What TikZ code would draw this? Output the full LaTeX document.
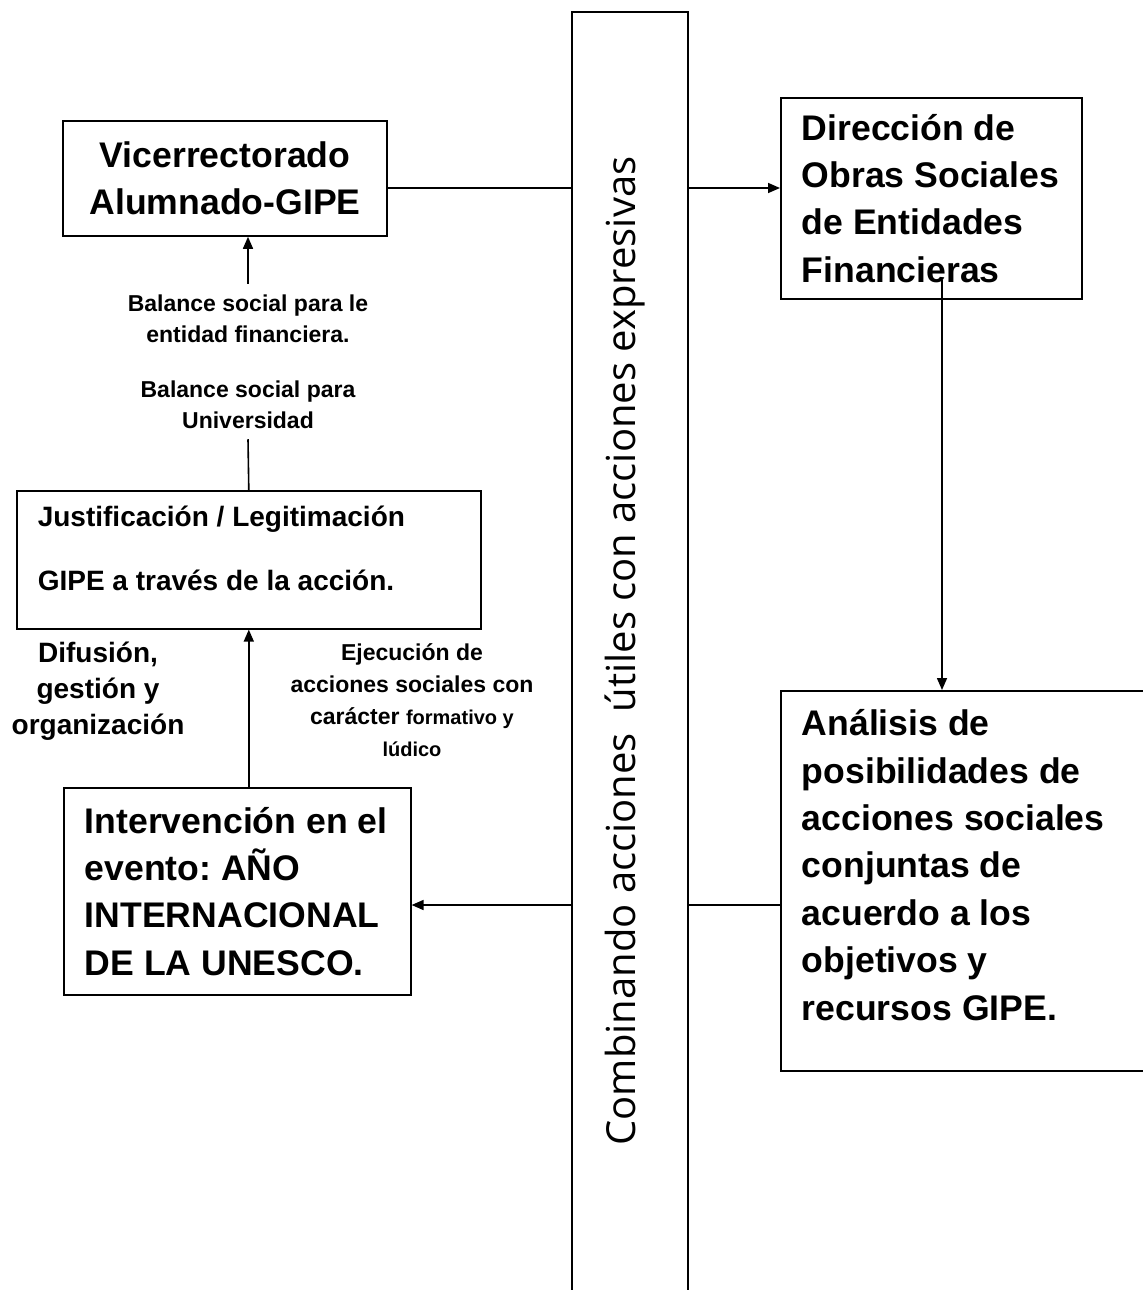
\documentclass[tikz,border=0pt]{standalone}
\usepackage{fontspec}
\setmainfont{Liberation Sans}
\newfontfamily\barfont{Open Sans}
\frenchspacing
\usetikzlibrary{calc}
\usetikzlibrary{arrows.meta}

\begin{document}
\begin{tikzpicture}[x=0.5pt, y=-0.5pt, line width=0.8pt, >={Triangle[length=6pt, width=5pt]},
 box/.style={draw, rectangle, anchor=north west, inner xsep=10.5pt, inner ysep=0pt, align=flush left},
 big/.style={font=\bfseries\fontsize{17.8}{23.7}\selectfont},
 note/.style={align=center, inner sep=5pt, font=\bfseries\fontsize{11.5}{15.5}\selectfont}]
\useasboundingbox (0,0) rectangle (1143,1290);
% central bar
\node[draw, anchor=north, inner sep=0, minimum width=58pt, minimum height=650pt] (bar) at (630,11) {};
\node[rotate=90, anchor=base, inner sep=0, font=\barfont\fontsize{20}{24}\selectfont] (lema) at (635,651)
 {Combinando acciones~ útiles con acciones expresivas};
% left side
\node[draw, big, align=center, minimum width=162pt, minimum height=57.5pt] (vice) at (225,178.5) {Vicerrectorado\\Alumnado-GIPE};
\node[note] (ent) at (248,318.5) {Balance social para le\\entidad financiera.};
\node[note] (univ) at (248,404.5) {Balance social para\\Universidad};
\node[box, text width=211pt, minimum height=69pt, font=\bfseries\fontsize{14}{16}\selectfont] (just) at (16,490)
 {Justificación / Legitimación\\[16pt]GIPE a través de la acción.\rule[-12pt]{0pt}{12pt}};
\node[align=center, font=\bfseries\fontsize{14}{18}\selectfont] (dif) at (98,691) {Difusión,\\gestión y\\organización};
\node[note, inner sep=0pt, font=\bfseries\fontsize{11.5}{16}\selectfont] (eje) at (412,700)
 {Ejecución de\\acciones sociales con\\carácter {\fontsize{10}{16}\selectfont formativo y}\\{\fontsize{10}{16}\selectfont lúdico}};
\node[box, big, text width=152.5pt, minimum height=103.5pt] (inter) at (63,787)
 {Intervención~en~el\\evento: AÑO\\INTERNACIONAL\\DE LA UNESCO.};
% right side
\node[box, big, text width=129.5pt, minimum height=100.5pt] (dir) at (780,97)
 {Dirección de\\Obras~Sociales\\de Entidades\\Financieras};
\node[box, big, text width=175pt, minimum height=190pt] (ana) at (780,690)
 {Análisis de\\posibilidades de\\acciones sociales\\conjuntas de\\acuerdo a los\\objetivos y\\recursos GIPE.\rule[-16pt]{0pt}{16pt}};
% connectors
\coordinate (row1) at (0,188);
\coordinate (row2) at (0,905);
\coordinate (col) at (942,0);
\draw (vice.east |- row1) -- (bar.west |- row1);
\draw[->] (bar.east |- row1) -- (dir.west |- row1);
\draw[->] ($(dir.south -| col)+(0,-20)$) -- (ana.north -| col);
\draw (bar.east |- row2) -- (ana.west |- row2);
\draw[->] (bar.west |- row2) -- (inter.east |- row2);
\draw[->] (inter.north -| just.south) -- (just.south);
\draw (just.north) -- (univ.south);
\draw[->] (ent.north) -- (vice.south -| ent.north);
\end{tikzpicture}
\end{document}
